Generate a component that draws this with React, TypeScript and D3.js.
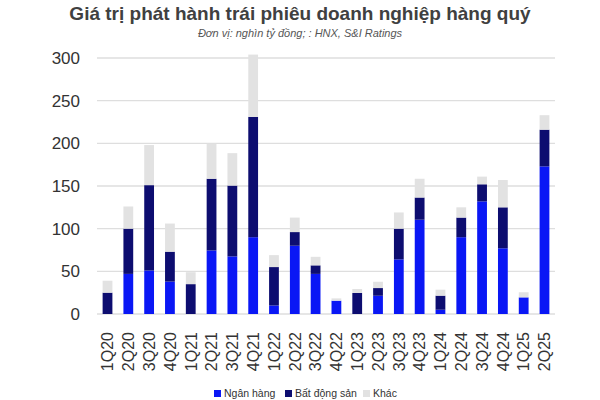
import React from "react";
import * as d3 from "d3";

const quarters = ["1Q20","2Q20","3Q20","4Q20","1Q21","2Q21","3Q21","4Q21","1Q22","2Q22","3Q22","4Q22","1Q23","2Q23","3Q23","4Q23","1Q24","2Q24","3Q24","4Q24","1Q25","2Q25"];
const bank = [0,47,51,38,0,74.5,67.5,90,10,80,47,15.6,0,21.4,64,110.5,5,90,132,77,19.5,173];
const realEstate = [25,53,100,35,35,84,83,141,45,16,10,0,24.6,9,36,26,16.5,23,20,48,0,43];
const other = [14,26,47,33,14,41,38,73,14,17,10,2.7,4.7,7.4,19,22,7,12,9,32,6,17];
const yTicks = [0,50,100,150,200,250,300];
const seriesNames = ["Ngân hàng","Bất động sản","Khác"];
const colors = ["#0a17f5","#0d0d70","#e2e2e2"];

export default function App() {
  const W = 600, H = 400;
  const left = 97, right = 555, top = 58, bottom = 314;
  const x = d3.scaleBand<string>().domain(quarters).range([left, right]).paddingInner(0.53).paddingOuter(0.27);
  const y = d3.scaleLinear().domain([0, 300]).range([bottom, top]);
  const rows = quarters.map((q, i) => ({ q, bank: bank[i], re: realEstate[i], other: other[i] }));
  const stack = d3.stack<any>().keys(["bank","re","other"])(rows);
  const font = "'Liberation Sans', Arial, Helvetica, sans-serif";
  const legendX = [214, 285, 363];
  return (
    <svg width={W} height={H} style={{ position: "absolute", left: 0, top: 0, background: "#fff" }} fontFamily={font}>
      <text x={300} y={20} textAnchor="middle" fontSize={19} fontWeight="bold" fill="#404040">Giá trị phát hành trái phiêu doanh nghiệp hàng quý</text>
      <text x={300} y={37} textAnchor="middle" fontSize={11} fontStyle="italic" fill="#555">Đơn vị: nghìn tỷ đồng; : HNX, S&amp;I Ratings</text>
      {yTicks.map(t => (
        <g key={t}>
          <line x1={left} x2={right} y1={y(t)} y2={y(t)} stroke="#dedede" strokeWidth={1.3} />
          <text x={80} y={y(t)} dy="0.35em" textAnchor="end" fontSize={17} fill="#333">{t}</text>
        </g>
      ))}
      {stack.map((s, si) => (
        <g key={si} fill={colors[si]}>
          {s.map((d, i) => (
            <rect key={i} x={x(quarters[i])} width={x.bandwidth()} y={y(d[1])} height={Math.max(0, y(d[0]) - y(d[1]))} />
          ))}
        </g>
      ))}
      {quarters.map(q => (
        <text key={q} transform={`translate(${(x(q) as number) + x.bandwidth() / 2},332) rotate(-90)`} textAnchor="end" dy="0.36em" fontSize={16} fill="#333">{q}</text>
      ))}
      {seriesNames.map((n, i) => (
        <g key={n}>
          <rect x={legendX[i]} y={390} width={7} height={7} fill={colors[i]} />
          <text x={legendX[i] + 10} y={397} fontSize={10.5} fill="#333">{n}</text>
        </g>
      ))}
    </svg>
  );
}
